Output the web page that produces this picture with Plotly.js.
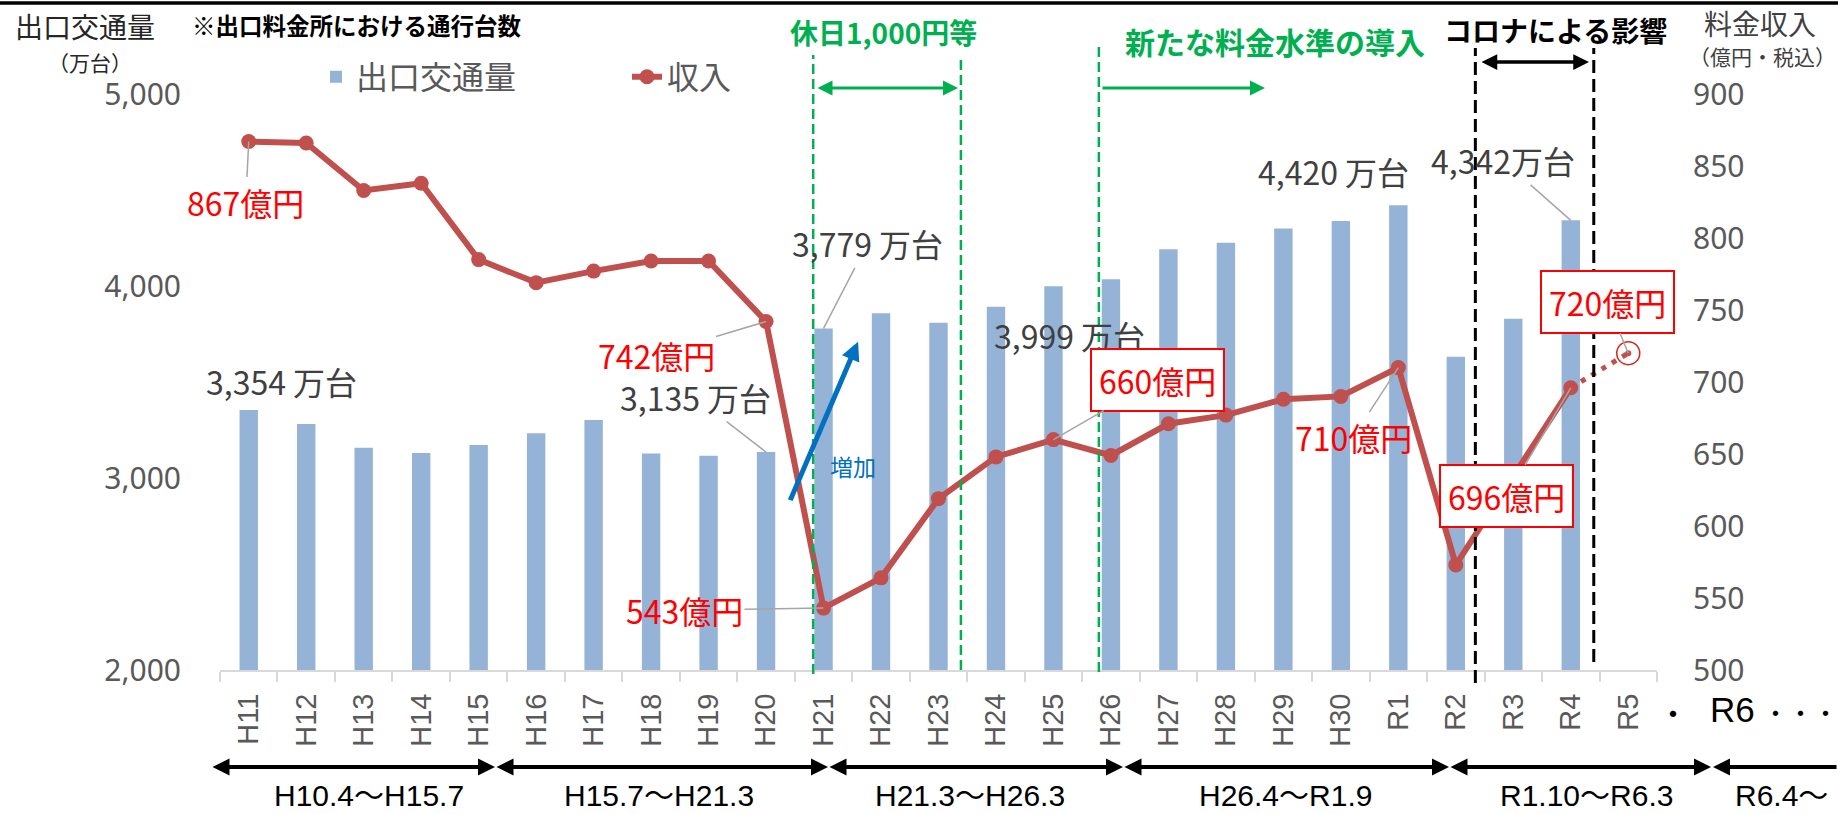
<!DOCTYPE html>
<html><head><meta charset="utf-8">
<script src="https://cdn.plot.ly/plotly-3.0.1.min.js"></script>
<style>html,body{margin:0;padding:0;background:#fff}#chart{width:1838px;height:814px}</style>
</head><body><div id="chart"></div>
<script>
// ---------- data ----------
const years = ['H11','H12','H13','H14','H15','H16','H17','H18','H19','H20','H21','H22','H23','H24','H25','H26','H27','H28','H29','H30','R1','R2','R3','R4','R5'];
const traffic = [3354,3281,3158,3130,3172,3233,3302,3128,3116,3135,3779,3858,3809,3892,3999,4035,4191,4225,4300,4338,4420,3632,3829,4342,null];
const revenue = [867,866,833,838,785,769,777,784,784,742,543,564,619,648,660,649,671,677,688,690,710,573,null,696,null];
const forecastYears = ['R4','R5'];
const forecastRevenue = [696,720];
const periods = ['H10.4～H15.7','H15.7～H21.3','H21.3～H26.3','H26.4～R1.9','R1.10～R6.3','R6.4～'];
const leftTicks = [2000,3000,4000,5000];
const rightTicks = [500,550,600,650,700,750,800,850,900];

// ---------- helpers ----------
const L=220,R=1657,T=94,B=670;
const px = v => (v-L)/(R-L);
const py = v => (B-v)/(B-T);
const JP = '"Noto Sans CJK JP", sans-serif';
const LAT = '"Liberation Sans", "Noto Sans CJK JP", sans-serif';
const idx = c => years.indexOf(c);
const fmt = v => v.toLocaleString('en-US');

function txt(text, x, y, size, color, anchor, family){
  return {text:text, xref:'paper', yref:'paper', x:px(x), y:py(y), xanchor:anchor||'center', yanchor:'middle',
    showarrow:false, font:{size:size, color:color, family:family||JP}};
}

const traces = [
  {type:'bar', x:years, y:traffic, name:'出口交通量', marker:{color:'#95B3D7'}, yaxis:'y', hoverinfo:'skip'},
  {type:'scatter', mode:'lines+markers', x:years, y:revenue, name:'収入', yaxis:'y2', connectgaps:true,
   line:{color:'#C0504D', width:6}, marker:{color:'#C0504D', size:15}, hoverinfo:'skip'},
  {type:'scatter', mode:'lines', x:forecastYears, y:forecastRevenue, yaxis:'y2', showlegend:false,
   line:{color:'#C0504D', width:5, dash:'5px,7px'}, hoverinfo:'skip'},
  {type:'scatter', mode:'markers', x:[forecastYears[1]], y:[forecastRevenue[1]], yaxis:'y2', showlegend:false,
   marker:{color:'#C0504D', size:6}, hoverinfo:'skip'},
  {type:'scatter', mode:'markers', x:[forecastYears[1]], y:[forecastRevenue[1]], yaxis:'y2', showlegend:false,
   marker:{symbol:'circle-open', color:'#E0201B', size:23, line:{width:1.5, color:'#E0201B'}}, hoverinfo:'skip'}
];

const ann = [];
const lead = {arrowhead:0, arrowwidth:1.5, arrowcolor:'#A6A6A6', standoff:0};

// traffic labels
function trafficLabel(cat, sep, ox, oy, arrow){
  const i = idx(cat);
  const a = {text:fmt(traffic[i])+sep+'万台', xref:'x', yref:'y', x:cat, y:traffic[i],
    font:{size:32, color:'#404040', family:JP}};
  if(arrow){ Object.assign(a, lead, {showarrow:true, ax:ox, ay:oy}); }
  else { Object.assign(a, {showarrow:false, xshift:ox, yshift:-oy}); }
  ann.push(a);
}
trafficLabel('H11',' ',33,-29,false);
trafficLabel('H20',' ',-71,-55,true);
trafficLabel('H21',' ',44,-85,true);
trafficLabel('H25',' ',16,49,false);
trafficLabel('R1',' ',-65,-34,false);
trafficLabel('R4','',-68,-60,true);

// revenue labels
function revLabel(cat, val, ox, oy, boxed){
  const a = Object.assign({text:val+'億円', xref:'x', yref:'y2', x:cat, y:val, showarrow:true, ax:ox, ay:oy,
    font:{size:32, color:'#FF0000', family:JP}}, lead);
  if(boxed){ Object.assign(a, {bordercolor:'#FF0000', borderwidth:2, bgcolor:'#FFFFFF', borderpad:7}); }
  ann.push(a);
}
revLabel('H11', revenue[idx('H11')], -3, 60, false);
revLabel('H20', revenue[idx('H20')], -110, 33, false);
revLabel('H21', revenue[idx('H21')], -139, 2, false);
revLabel('H25', revenue[idx('H25')], 104, -60, true);
revLabel('R1', revenue[idx('R1')], -45, 69, false);
revLabel('R4', revenue[idx('R4')], -64, 108, true);
revLabel('R5', forecastRevenue[1], -21, -51, true);

// increase arrow
ann.push({text:'', xref:'x', yref:'y', x:10.6, y:3710, axref:'x', ayref:'y', ax:9.41, ay:2877,
  showarrow:true, arrowhead:2, arrowsize:0.75, arrowwidth:5, arrowcolor:'#0070C0'});
ann.push(txt('増加', 853, 466, 23, '#0070C0'));

// top arrows
function hArrow(x0, x1, y, color, w, size, both){
  ann.push({text:'', xref:'paper', yref:'paper', x:px(x1), y:py(y), ax:x0-x1, ay:0, axref:'pixel', ayref:'pixel',
    showarrow:true, arrowhead:2, startarrowhead:2, arrowsize:size, startarrowsize:size, arrowwidth:w, arrowcolor:color,
    arrowside: both ? 'end+start' : 'end'});
}
hArrow(816, 958, 88, '#00B050', 3, 1.0, true);
hArrow(1101, 1265, 88, '#00B050', 3, 1.0, false);
hArrow(1480, 1589, 62, '#000000', 3.5, 0.9, true);

// bottom period arrows
const bounds = [211, 495, 828, 1123, 1449, 1711];
for(let k=0;k<bounds.length-1;k++){ hArrow(bounds[k], bounds[k+1], 767, '#000000', 4, 0.85, true); }
ann.push({text:'', xref:'paper', yref:'paper', x:px(1713), y:py(767), ax:200, ay:0, axref:'pixel', ayref:'pixel',
  showarrow:true, arrowhead:2, arrowsize:0.85, arrowwidth:4, arrowcolor:'#000000', arrowside:'end'});
const periodCenters = [369, 659, 970, 1285, 1586];
periods.forEach((p,k)=>{
  if(k<periodCenters.length) ann.push(txt(p, periodCenters[k], 795, 30, '#000000', 'center', LAT));
  else ann.push(txt(p, 1733, 795, 30, '#000000', 'left', LAT));
});
ann.push(txt('・', 1673, 712, 30, '#000000'));
ann.push(txt('R6', 1708, 709, 35, '#000000', 'left', LAT));
ann.push(txt('・・・', 1761, 712, 25, '#000000', 'left'));

// titles
ann.push(txt('出口交通量', 13, 26, 28, '#262626', 'left'));
ann.push(txt('<b>※出口料金所における通行台数</b>', 190, 25, 23.5, '#000000', 'left'));
ann.push(txt('（万台）', 90, 62, 21, '#262626'));
ann.push(txt('料金収入', 1760, 23, 28, '#404040'));
ann.push(txt('（億円・税込）', 1762, 56, 21, '#404040'));
ann.push(txt('<b>休日1,000円等</b>', 883, 32, 28, '#00B050'));
ann.push(txt('<b>新たな料金水準の導入</b>', 1275, 41, 30, '#00B050'));
ann.push(txt('<b>コロナによる影響</b>', 1555, 30, 28, '#000000'));

// shapes
const shapes = [
  {type:'line', xref:'paper', yref:'paper', x0:px(0), x1:px(1838), y0:py(3), y1:py(3), line:{color:'#000', width:3.5}},
  {type:'line', xref:'x', yref:'paper', x0:9.82, x1:9.82, y0:py(674), y1:py(55), line:{color:'#00B050', width:2.5, dash:'10px,5px'}},
  {type:'line', xref:'x', yref:'paper', x0:12.39, x1:12.39, y0:py(670), y1:py(55), line:{color:'#00B050', width:2.5, dash:'10px,5px'}},
  {type:'line', xref:'x', yref:'paper', x0:14.79, x1:14.79, y0:py(672), y1:py(43), line:{color:'#00B050', width:2.5, dash:'10px,5px'}},
  {type:'line', xref:'x', yref:'paper', x0:21.34, x1:21.34, y0:py(683), y1:py(48), line:{color:'#000000', width:3, dash:'13px,6px'}},
  {type:'line', xref:'x', yref:'paper', x0:23.4, x1:23.4, y0:py(662), y1:py(48), line:{color:'#000000', width:3, dash:'13px,6px'}}
];

const layout = {
  width:1838, height:814, autosize:false,
  margin:{l:L, r:1838-R, t:T, b:814-B, pad:0},
  paper_bgcolor:'#ffffff', plot_bgcolor:'#ffffff',
  bargap:0.68, hovermode:false,
  showlegend:true,
  legend:{orientation:'h', x:px(316), y:py(77), xanchor:'left', yanchor:'middle', bgcolor:'rgba(0,0,0,0)',
    font:{size:32, color:'#595959', family:JP}, entrywidth:266, entrywidthmode:'pixels'},
  xaxis:{type:'category', categoryorder:'array', categoryarray:years, range:[-0.5,24.5],
    tickangle:-90, ticks:'outside', tickson:'boundaries', ticklen:10, tickwidth:2, tickcolor:'#D9D9D9',
    showline:true, linecolor:'#D9D9D9', linewidth:2, showgrid:false, zeroline:false,
    tickfont:{size:29, color:'#595959', family:LAT}, ticklabelstandoff:10, automargin:false},
  yaxis:{range:[2000,5000], tickvals:leftTicks, tickformat:',d', showgrid:false, zeroline:false, showline:false,
    ticks:'', tickfont:{size:30, color:'#595959', family:'"Noto Sans", sans-serif'}, ticklabelstandoff:38, automargin:false},
  yaxis2:{range:[500,900], tickvals:rightTicks, overlaying:'y', side:'right', showgrid:false, zeroline:false, showline:false,
    ticks:'', tickfont:{size:30, color:'#595959', family:'"Noto Sans", sans-serif'}, ticklabelstandoff:35, automargin:false},
  shapes:shapes,
  annotations:ann
};

Plotly.newPlot('chart', traces, layout, {displayModeBar:false, staticPlot:true});
</script>
</body></html>
